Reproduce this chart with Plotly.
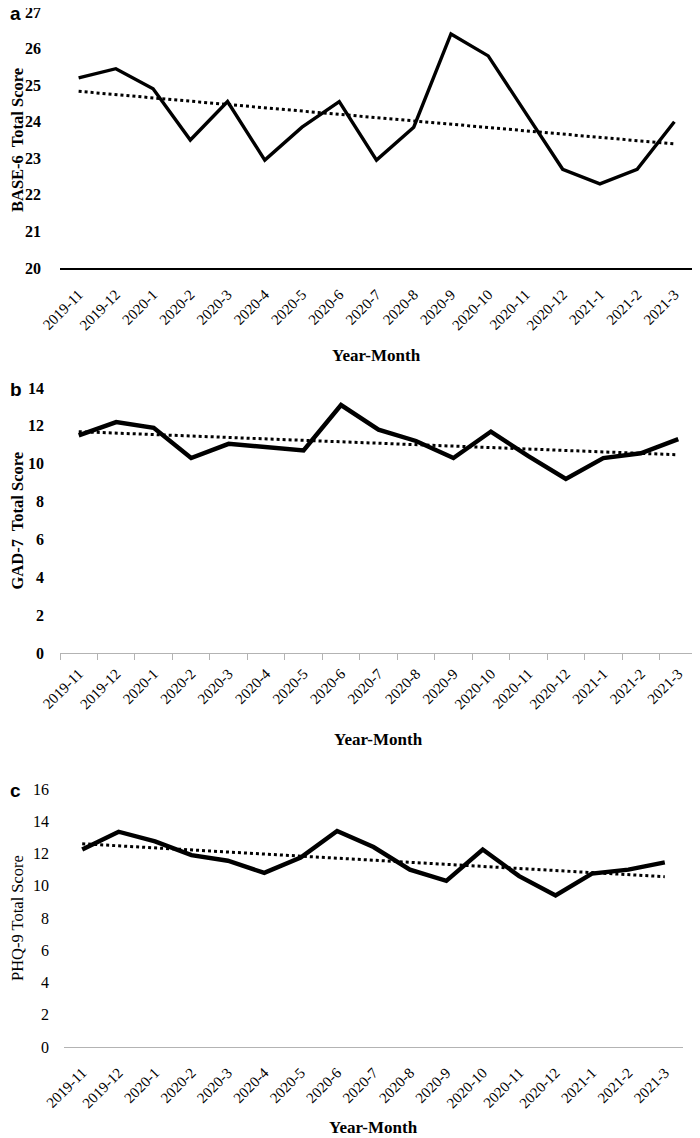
import numpy as np
import plotly.graph_objects as go

months = ["2019-11", "2019-12", "2020-1", "2020-2", "2020-3", "2020-4", "2020-5",
          "2020-6", "2020-7", "2020-8", "2020-9", "2020-10", "2020-11", "2020-12",
          "2021-1", "2021-2", "2021-3"]

base6 = [25.2, 25.45, 24.9, 23.5, 24.55, 22.95, 23.85, 24.55, 22.95, 23.85,
         26.4, 25.8, 24.25, 22.7, 22.3, 22.7, 24.0]
gad7 = [11.5, 12.2, 11.9, 10.3, 11.05, 10.9, 10.7, 13.1, 11.8, 11.2,
        10.3, 11.7, 10.4, 9.2, 10.3, 10.55, 11.3]
phq9 = [12.25, 13.35, 12.75, 11.9, 11.55, 10.8, 11.75, 13.4, 12.4, 11.0,
        10.3, 12.25, 10.6, 9.4, 10.75, 11.0, 11.45]

panel_letters = ["a", "b", "c"]
y_titles = ["BASE-6  Total Score", "GAD-7  Total Score", "PHQ-9 Total Score"]
x_title = "Year-Month"

# page body has an 8px default margin; size the figure so it fits the window
OFF = 8
W, H = 700 - OFF, 1138 - OFF
SERIF = "Liberation Serif, Times New Roman, serif"


def px_x(v):
    return (v - OFF) / W


def px_y(v):
    return 1 - (v - OFF) / H


def trend(vals):
    idx = np.arange(len(vals))
    k, b = np.polyfit(idx, np.asarray(vals, dtype=float), 1)
    return list(k * idx + b)


fig = go.Figure()

panels = [
    dict(data=base6, yr=[20, 27], dt=1, xd=(60, 693), yd=(12, 268), lw=3.4,
         linecolor="black", linewidth=2, ticks="", bold=True, xt_y=355, ysoff=18),
    dict(data=gad7, yr=[0, 14], dt=2, xd=(60, 697), yd=(388, 653), lw=4.4,
         linecolor="#b3b3b3", linewidth=1.2, ticks="outside", bold=True, xt_y=739, ysoff=15),
    dict(data=phq9, yr=[0, 16], dt=2, xd=(64, 683), yd=(789, 1047), lw=4.4,
         linecolor="#b3b3b3", linewidth=1.2, ticks="", bold=False, xt_y=1127, ysoff=14),
]

annotations = []
for i, p in enumerate(panels):
    sfx = "" if i == 0 else str(i + 1)
    xa, ya = "x" + sfx, "y" + sfx
    fig.add_trace(go.Scatter(x=months, y=p["data"], mode="lines",
                             line=dict(color="black", width=p["lw"]),
                             xaxis=xa, yaxis=ya, showlegend=False))
    fig.add_trace(go.Scatter(x=months, y=trend(p["data"]), mode="lines",
                             line=dict(color="black", width=3, dash="dot"),
                             xaxis=xa, yaxis=ya, showlegend=False))
    x0, x1 = px_x(p["xd"][0]), min(px_x(p["xd"][1]), 1.0)
    y0, y1 = px_y(p["yd"][1]), px_y(p["yd"][0])
    xaxis = dict(domain=[x0, x1], anchor=ya, type="category",
                 categoryorder="array", categoryarray=months,
                 range=[-0.5, len(months) - 0.5], automargin=False,
                 showline=True, linecolor=p["linecolor"], linewidth=p["linewidth"],
                 showgrid=False, zeroline=False, tickangle=-45,
                 ticks=p["ticks"], tickson="boundaries", ticklen=6,
                 tickcolor=p["linecolor"], tickwidth=1.2,
                 ticklabelstandoff=10 if p["ticks"] == "" else 5,
                 ticklabeloverflow="allow",
                 tickfont=dict(family=SERIF, size=15, color="black"))
    yaxis = dict(domain=[y0, y1], anchor=xa, range=p["yr"], dtick=p["dt"],
                 showline=False, showgrid=False, zeroline=False, automargin=False,
                 ticks="", ticklabelstandoff=p["ysoff"], ticklabeloverflow="allow",
                 tickfont=dict(family=SERIF, size=16, color="black",
                               weight="bold" if p["bold"] else "normal"))
    fig.update_layout(**{"xaxis" + sfx: xaxis, "yaxis" + sfx: yaxis})

    ytxt = "<b>%s</b>" % y_titles[i] if p["bold"] else y_titles[i]
    annotations.append(dict(text=ytxt, textangle=-90, xref="paper", yref="paper",
                            x=px_x(17), y=px_y((p["yd"][0] + p["yd"][1]) / 2),
                            xanchor="center", yanchor="middle", showarrow=False,
                            font=dict(family=SERIF, size=16.5, color="black")))
    annotations.append(dict(text="<b>%s</b>" % x_title, xref="paper", yref="paper",
                            x=px_x((p["xd"][0] + p["xd"][1]) / 2),
                            y=px_y(p["xt_y"]), xanchor="center", yanchor="middle",
                            showarrow=False,
                            font=dict(family=SERIF, size=17, color="black")))
    annotations.append(dict(text="<b>%s</b>" % panel_letters[i], xref="paper",
                            yref="paper", x=0, y=px_y(p["yd"][0] + 1),
                            xanchor="left", yanchor="middle", showarrow=False,
                            font=dict(family="Liberation Sans, Arial, sans-serif",
                                      size=19, color="black")))

fig.update_layout(width=W, height=H, margin=dict(l=0, r=0, t=0, b=0, autoexpand=False),
                  plot_bgcolor="white", paper_bgcolor="white",
                  annotations=annotations, showlegend=False)

fig.write_html("out.html")
